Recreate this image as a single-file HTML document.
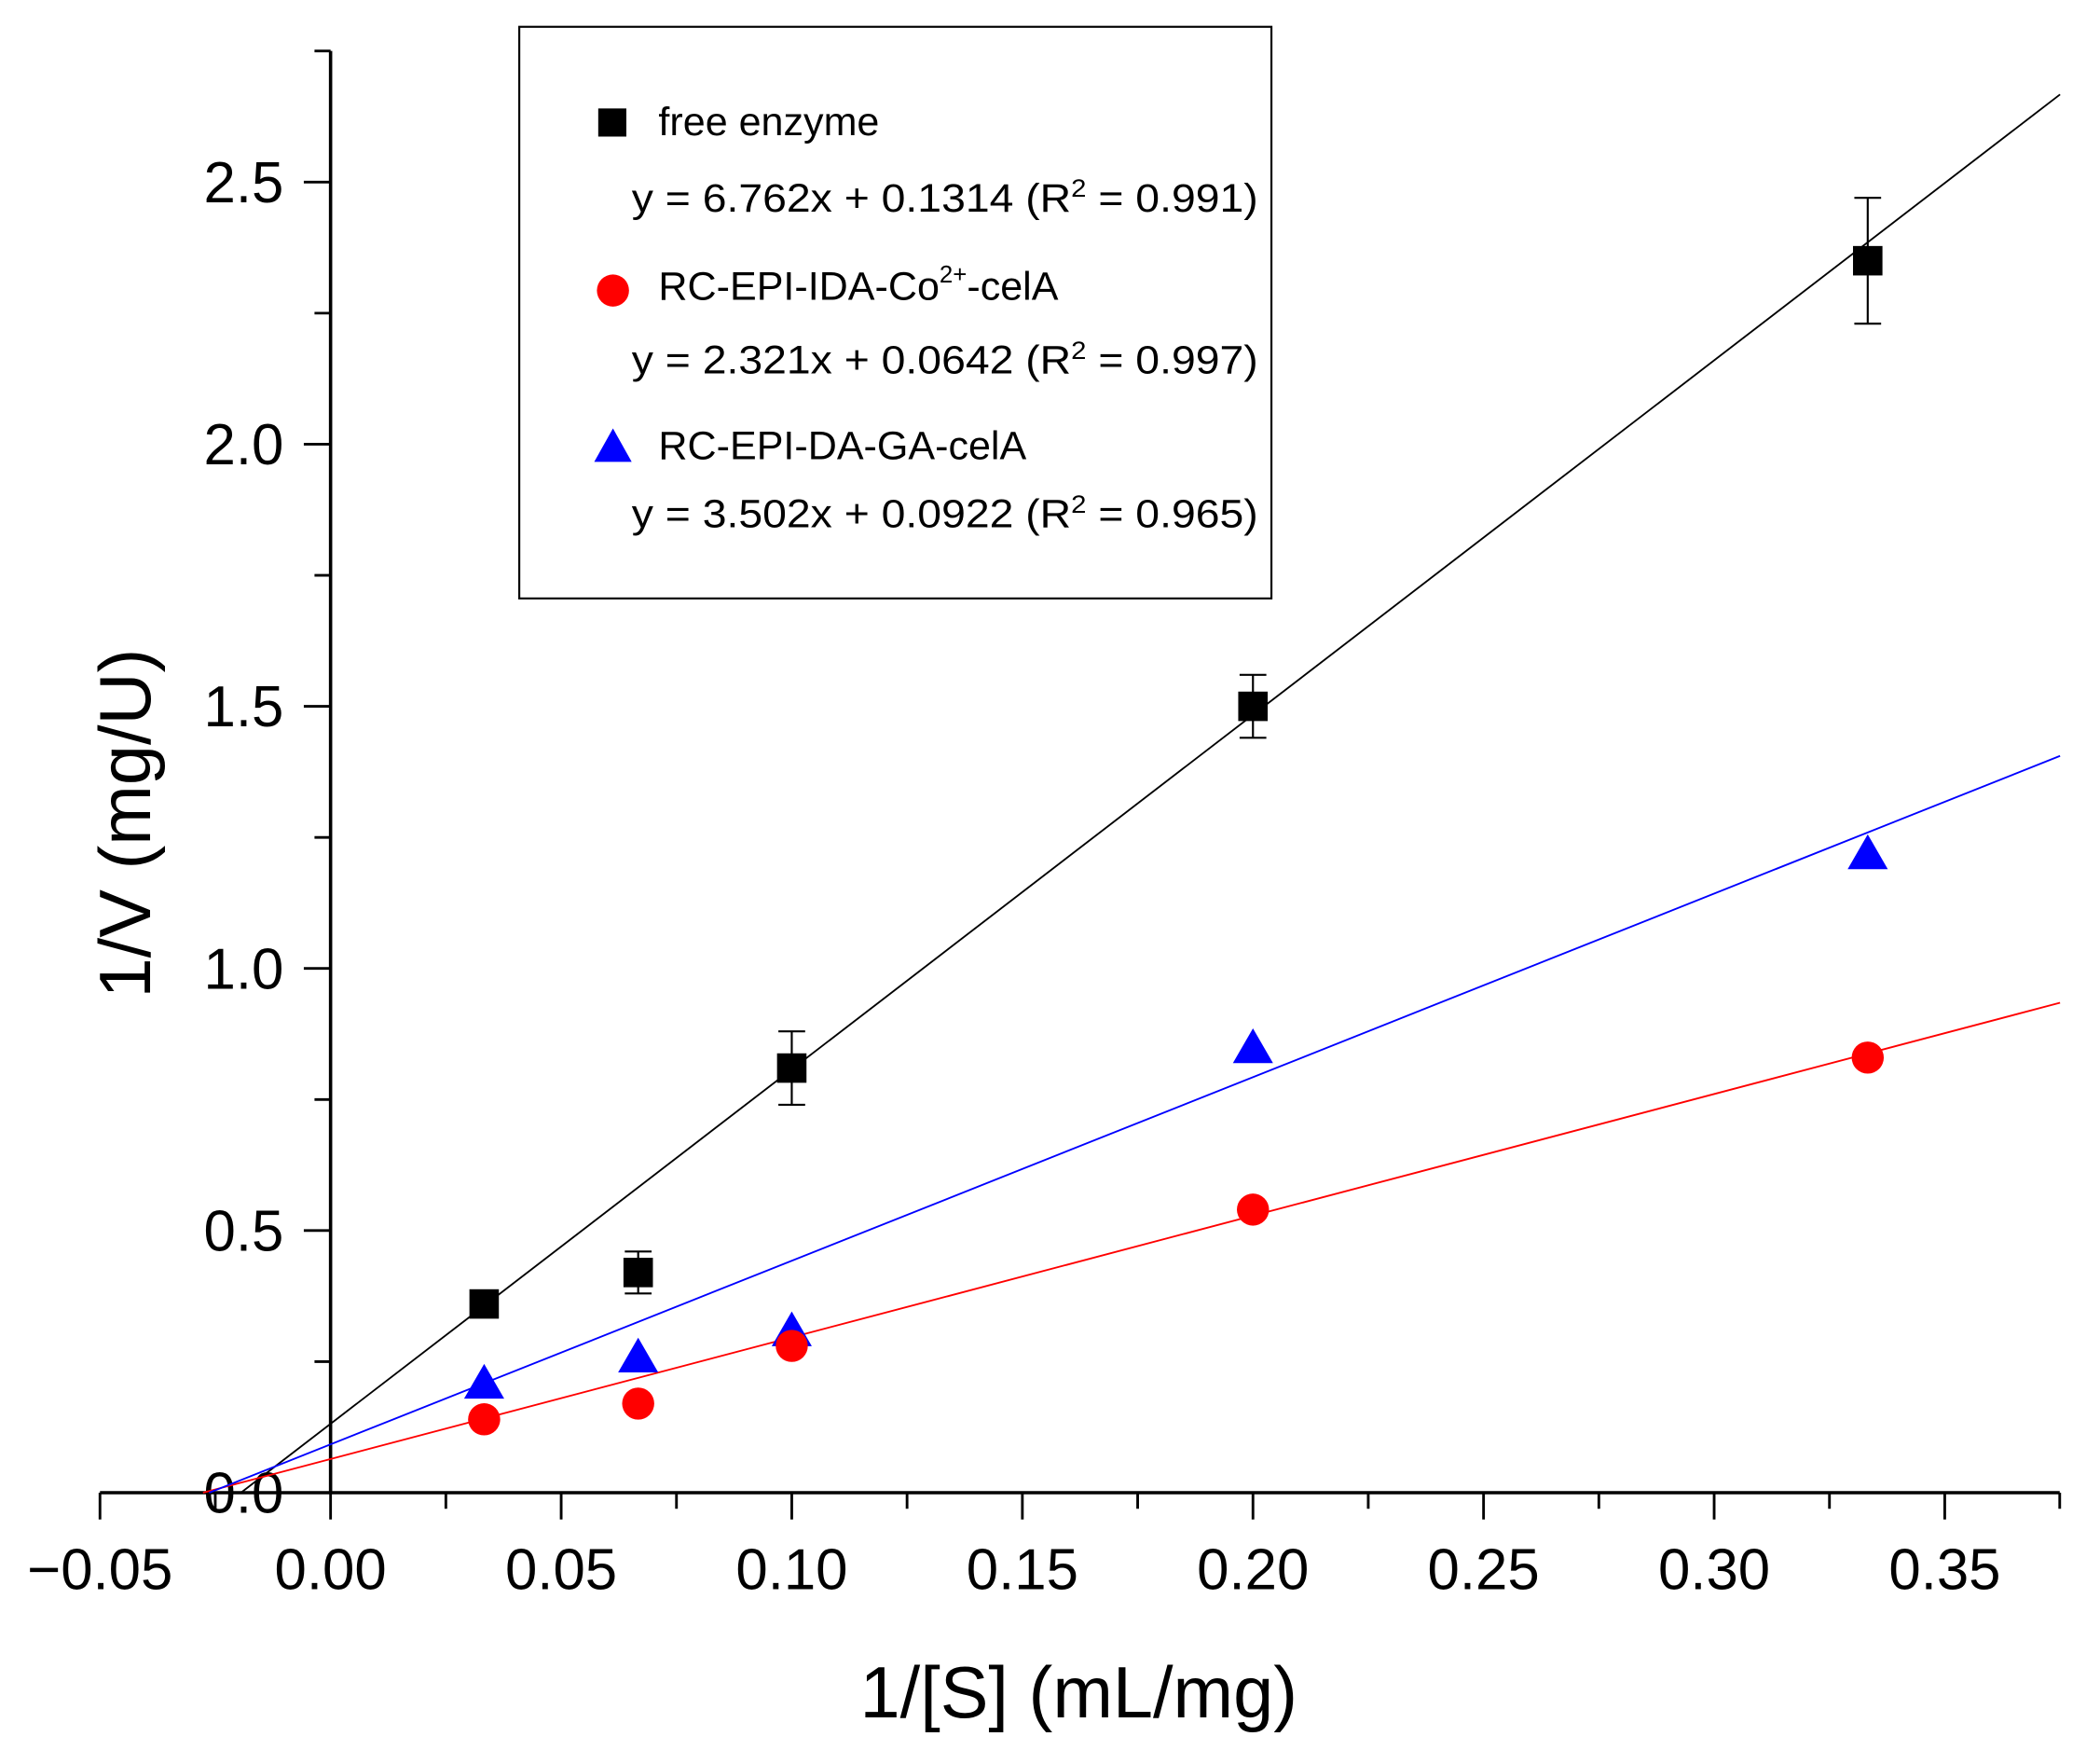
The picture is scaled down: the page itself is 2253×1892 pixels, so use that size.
<!DOCTYPE html>
<html><head><meta charset="utf-8"><style>
html,body{margin:0;padding:0;background:#fff}
svg{display:block}
text{font-family:"Liberation Sans",Arial,sans-serif}
</style></head><body>
<svg id="chart" width="2253" height="1892" viewBox="0 0 1560 1310" xmlns="http://www.w3.org/2000/svg">
<g transform="scale(0.9942)">
<g id="axes"></g>
<g id="marks"></g>
<g>
<rect x="388" y="20" width="562" height="427" fill="#fff" stroke="#000" stroke-width="1.5"/>
<rect x="447" y="81" width="21" height="21" fill="#000"/>
<text x="492" y="101" font-size="30">free enzyme</text>
<text x="472" y="158" font-size="30" textLength="468" lengthAdjust="spacingAndGlyphs">y = 6.762x + 0.1314 (R<tspan font-size="19" dy="-11">2</tspan><tspan dy="11"> = 0.991)</tspan></text>
<circle cx="458" cy="217" r="12" fill="#f00"/>
<text x="492" y="224" font-size="30">RC-EPI-IDA-Co<tspan font-size="18" dy="-13">2+</tspan><tspan dy="13">-celA</tspan></text>
<text x="472" y="279" font-size="30" textLength="468" lengthAdjust="spacingAndGlyphs">y = 2.321x + 0.0642 (R<tspan font-size="19" dy="-11">2</tspan><tspan dy="11"> = 0.997)</tspan></text>
<polygon points="458,320 472,345 444,345" fill="#00f"/>
<text x="492" y="343" font-size="30">RC-EPI-DA-GA-celA</text>
<text x="472" y="394" font-size="30" textLength="468" lengthAdjust="spacingAndGlyphs">y = 3.502x + 0.0922 (R<tspan font-size="19" dy="-11">2</tspan><tspan dy="11"> = 0.965)</tspan></text>
</g>
<text x="806" y="1283" font-size="54" text-anchor="middle">1/[S] (mL/mg)</text>
<text transform="translate(112,615) rotate(-90)" font-size="54" text-anchor="middle">1/V (mg/U)</text>
</g>
</svg>
<script>
const xValues=[0.0333,0.0667,0.1,0.2,0.3333];
const freeValues=[0.36,0.42,0.81,1.50,2.35];
const freeErrors=[0.01,0.04,0.07,0.06,0.12];
const coValues=[0.14,0.17,0.28,0.54,0.83];
const gaValues=[0.21,0.26,0.31,0.85,1.22];
const fitSlopes=[6.762,2.321,3.502];
const fitIntercepts=[0.1314,0.0642,0.0922];
const xTickLabels=["\u22120.05","0.00","0.05","0.10","0.15","0.20","0.25","0.30","0.35"];
const yTickLabels=["0.0","0.5","1.0","1.5","2.0","2.5"];
const NS="http://www.w3.org/2000/svg";
const X=v=>247+v*3446, Y=v=>1115-v*391.6;
function mk(p,t,a){const e=document.createElementNS(NS,t);for(const k in a)e.setAttribute(k,a[k]);p.appendChild(e);return e;}
const ax=document.getElementById('axes'), mg=document.getElementById('marks');
let e=mk(ax,'line',{x1:X(-0.05),y1:1115,x2:1539,y2:1115,stroke:'#000','stroke-width':2.5});


e=mk(ax,'line',{x1:247,y1:38,x2:247,y2:1115,stroke:'#000','stroke-width':2.5});


for(let i=0;i<=16;i++){const v=-0.05+i*0.025;const x=X(v);const major=i%2==0;
 e=mk(ax,'line',{x1:x,y1:1115,x2:x,y2:1115+(major?20:12),stroke:'#000','stroke-width':2});
 
 
 if(major){e=mk(ax,'text',{x:x,y:1187,'font-size':43,'text-anchor':'middle'});e.textContent=xTickLabels[i/2];
 
 }}
for(let i=0;i<=11;i++){const v=i*0.25;const y=Y(v);const major=i%2==0;
 e=mk(ax,'line',{x1:247,y1:y,x2:247-(major?20:12),y2:y,stroke:'#000','stroke-width':2});
 
 
 if(major){e=mk(ax,'text',{x:212,y:y+15,'font-size':43,'text-anchor':'end'});e.textContent=yTickLabels[i/2];
 
 }}
const e1=mk(ax,'line',{x1:1539,y1:1115,x2:1539,y2:1127,stroke:'#000','stroke-width':2});


const colors=['#000','#f00','#00f'], names=['fit-free','fit-co','fit-ga'];
for(let s=0;s<3;s++){const x0=-fitIntercepts[s]/fitSlopes[s],x1=0.375;
 e=mk(mg,'line',{x1:X(x0),y1:Y(0),x2:X(x1),y2:Y(fitSlopes[s]*x1+fitIntercepts[s]),stroke:colors[s],'stroke-width':1.3});
 
 }
xValues.forEach((xv,i)=>{const x=X(xv),t=Y(freeValues[i]+freeErrors[i]),b=Y(freeValues[i]-freeErrors[i]);
 const g=mk(mg,'g',{});
 
 
 mk(g,'line',{x1:x,y1:t,x2:x,y2:b,stroke:'#000','stroke-width':1.5});
 mk(g,'line',{x1:x-10,y1:t,x2:x+10,y2:t,stroke:'#000','stroke-width':1.5});
 mk(g,'line',{x1:x-10,y1:b,x2:x+10,y2:b,stroke:'#000','stroke-width':1.5});});
xValues.forEach((xv,i)=>{const x=X(xv);
 e=mk(mg,'polygon',{points:`${x},${Y(gaValues[i])-14} ${x+15},${Y(gaValues[i])+12} ${x-15},${Y(gaValues[i])+12}`,fill:'#00f'});
 
 
 e=mk(mg,'circle',{cx:x,cy:Y(coValues[i]),r:12,fill:'#f00'});
 
 
 e=mk(mg,'rect',{x:x-11,y:Y(freeValues[i])-11,width:22,height:22,fill:'#000'});
 
 });
</script>
</body></html>
